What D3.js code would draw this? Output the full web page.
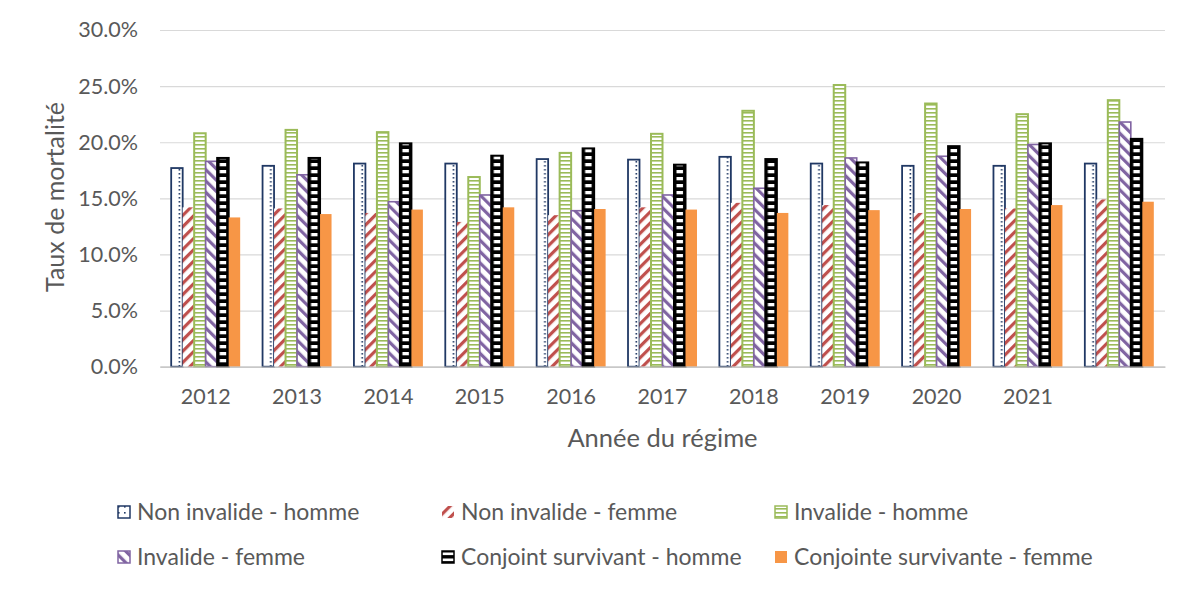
<!DOCTYPE html>
<html><head><meta charset="utf-8">
<script src="https://cdn.jsdelivr.net/npm/d3@7/dist/d3.min.js"></script>
<style>
html,body{margin:0;padding:0;background:#fff;}
text{font-family:Lato,"Open Sans",sans-serif;fill:#595959;}
</style></head>
<body><svg id="chart" width="1200" height="595"></svg>
<script>
const years = ["2012","2013","2014","2015","2016","2017","2018","2019","2020","2021","2022"];
const yearLabels = ["2012","2013","2014","2015","2016","2017","2018","2019","2020","2021",""];
const seriesNames = ["Non invalide - homme","Non invalide - femme","Invalide - homme","Invalide - femme","Conjoint survivant - homme","Conjointe survivante - femme"];
const nonInvalideHomme   = [17.7,17.9,18.1,18.1,18.5,18.45,18.7,18.1,17.9,17.9,18.1];
const nonInvalideFemme   = [14.2,14.1,13.7,12.9,13.5,14.2,14.6,14.4,13.7,14.1,14.9];
const invalideHomme      = [20.8,21.1,20.9,16.9,19.05,20.75,22.8,25.1,23.45,22.5,23.75];
const invalideFemme      = [18.3,17.1,14.7,15.3,13.9,15.3,15.9,18.6,18.75,19.8,21.8];
const conjointHomme      = [18.6,18.6,19.9,18.8,19.45,18.0,18.5,18.2,19.65,19.9,20.3];
const conjointeFemme     = [13.3,13.6,14.0,14.2,14.05,14.0,13.7,13.95,14.05,14.4,14.7];
const yTicks = [0,5,10,15,20,25,30];

const seriesValues = [nonInvalideHomme,nonInvalideFemme,invalideHomme,invalideFemme,conjointHomme,conjointeFemme];
const keys = ["nih","nif","ih","if","csh","csf"];

const svg = d3.select("#chart");
const m = {left:160,right:1165,top:30,bottom:366.7};

const x0 = d3.scaleBand().domain(years).range([m.left,m.right]).paddingInner(0.245).paddingOuter(0.1225);
const x1 = d3.scaleBand().domain(keys).range([0,x0.bandwidth()]);
const y = d3.scaleLinear().domain([0,30]).range([m.bottom,m.top]);
const bw = x1.bandwidth();
const step = x0.step();

const defs = svg.append("defs");
const pDots = defs.append("pattern").attr("id","pNih").attr("patternUnits","userSpaceOnUse")
  .attr("x", x0(years[0]) + x1("nih")).attr("width",step).attr("height",8);
pDots.append("rect").attr("width",step).attr("height",8).attr("fill","#fff");
pDots.append("rect").attr("x",bw-4).attr("y",1).attr("width",1.6).attr("height",1.6).attr("fill","#203864");
pDots.append("rect").attr("x",bw-4).attr("y",5).attr("width",1.6).attr("height",1.6).attr("fill","#203864");
const pNif = defs.append("pattern").attr("id","pNif").attr("patternUnits","userSpaceOnUse")
  .attr("width",8).attr("height",8).attr("patternTransform","rotate(45)");
pNif.append("rect").attr("width",8).attr("height",8).attr("fill","#fff");
pNif.append("rect").attr("x",0).attr("width",3.2).attr("height",8).attr("fill","#C0504D");
const pIh = defs.append("pattern").attr("id","pIh").attr("patternUnits","userSpaceOnUse").attr("width",8).attr("height",4);
pIh.append("rect").attr("width",8).attr("height",4).attr("fill","#fff");
pIh.append("rect").attr("y",0).attr("width",8).attr("height",1.6).attr("fill","#9BBB59");
const pIf = defs.append("pattern").attr("id","pIf").attr("patternUnits","userSpaceOnUse")
  .attr("width",8).attr("height",8).attr("patternTransform","rotate(-45)");
pIf.append("rect").attr("width",8).attr("height",8).attr("fill","#fff");
pIf.append("rect").attr("x",0).attr("width",3.2).attr("height",8).attr("fill","#8064A2");
const pCsh = defs.append("pattern").attr("id","pCsh").attr("patternUnits","userSpaceOnUse")
  .attr("x", x0(years[0]) + x1("csh")).attr("width",step).attr("height",7);
pCsh.append("rect").attr("width",step).attr("height",7).attr("fill","#000");
pCsh.append("rect").attr("x",2.5).attr("y",2).attr("width",bw-5).attr("height",3.3).attr("fill","#fff");

const pDotsL = defs.append("pattern").attr("id","pNihL").attr("patternUnits","userSpaceOnUse").attr("width",6).attr("height",6);
pDotsL.append("rect").attr("width",6).attr("height",6).attr("fill","#fff");
pDotsL.append("rect").attr("x",0).attr("y",0).attr("width",1.6).attr("height",1.6).attr("fill","#203864");
const pCshL = defs.append("pattern").attr("id","pCshL").attr("patternUnits","userSpaceOnUse").attr("width",30).attr("height",6);
pCshL.append("rect").attr("width",30).attr("height",6).attr("fill","#000");
pCshL.append("rect").attr("y",1.5).attr("width",30).attr("height",2.6).attr("fill","#fff");

const styles = {
  nih:{fill:"url(#pNih)",stroke:"#203864",sw:1.8,lfill:"url(#pNihL)"},
  nif:{fill:"url(#pNif)",stroke:"none",sw:0,lfill:"url(#pNif)"},
  ih:{fill:"url(#pIh)",stroke:"#9BBB59",sw:2,lfill:"url(#pIh)"},
  if:{fill:"url(#pIf)",stroke:"#8064A2",sw:1.6,lfill:"url(#pIf)"},
  csh:{fill:"url(#pCsh)",stroke:"#000",sw:2,lfill:"url(#pCshL)"},
  csf:{fill:"#F79646",stroke:"none",sw:0,lfill:"#F79646"}
};

const yAxis = d3.axisLeft(y).tickValues(yTicks).tickSize(-(m.right-m.left)).tickPadding(22)
  .tickFormat(d=>d.toFixed(1)+"%");
const gy = svg.append("g").attr("transform",`translate(${m.left},0)`).call(yAxis);
gy.select(".domain").remove();
gy.selectAll(".tick line").attr("stroke","#D9D9D9").attr("stroke-width",1.2);
gy.selectAll(".tick text").attr("font-size",21.5).attr("fill","#595959").style("font-family","Lato");

const data = years.map((yr,i)=>({yr, vals: keys.map((k,j)=>({k, yr, v: seriesValues[j][i]}))}));
const groups = svg.append("g").selectAll("g").data(data).join("g");
groups.selectAll("rect").data(d=>d.vals).join("rect")
  .attr("x",d=>x0(d.yr)+x1(d.k)).attr("y",d=>y(d.v)).attr("width",bw).attr("height",d=>y(0)-y(d.v))
  .attr("fill",d=>styles[d.k].fill)
  .attr("stroke",d=>styles[d.k].stroke)
  .attr("stroke-width",d=>styles[d.k].sw);

const xAxis = d3.axisBottom(x0).tickSize(0).tickPadding(22).tickFormat((d,i)=>yearLabels[i]);
const gx = svg.append("g").attr("transform",`translate(0,${m.bottom})`).call(xAxis);
gx.select(".domain").attr("stroke","#BFBFBF").attr("stroke-width",1.2);
gx.selectAll(".tick text").attr("font-size",21.5).attr("fill","#595959").style("font-family","Lato");

svg.append("text").attr("x",(m.left+m.right)/2).attr("y",447).attr("text-anchor","middle")
  .attr("font-size",25.5).text("Année du régime");
svg.append("text").attr("transform",`translate(64,197) rotate(-90)`).attr("text-anchor","middle")
  .attr("font-size",25).text("Taux de mortalité");

const legX = [118,442,775];
const legY = [512,557];
const leg = svg.append("g");
seriesNames.forEach((name,i)=>{
  const col=i%3,row=Math.floor(i/3);
  const k=keys[i], s=styles[k];
  const g=leg.append("g").attr("transform",`translate(${legX[col]},${legY[row]})`);
  g.append("rect").attr("x",0).attr("y",-6).attr("width",12).attr("height",12)
   .attr("fill",s.lfill).attr("stroke",s.stroke==="none"?"none":s.stroke).attr("stroke-width",s.sw?1.5:0);
  g.append("text").attr("x",19).attr("y",0).attr("dy","0.36em").attr("font-size",23).text(name);
});
</script></body></html>
